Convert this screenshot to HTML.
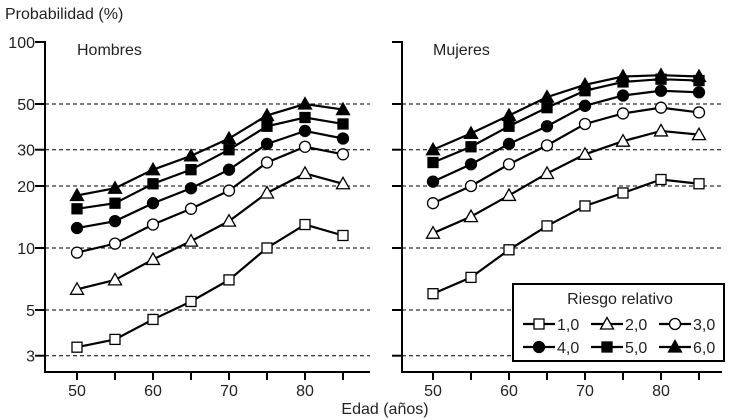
<!DOCTYPE html>
<html><head><meta charset="utf-8"><style>
html,body{margin:0;padding:0;background:#fff;}
svg{display:block;font-family:"Liberation Sans",Arial,sans-serif;}
</style></head><body>
<svg id="c" width="730" height="420" viewBox="0 0 730 420"></svg>
<script>
const ages=[50,55,60,65,70,75,80,85];
const riskLabels=["1,0","2,0","3,0","4,0","5,0","6,0"];
const markers=["sq-open","tri-open","circ-open","circ-fill","sq-fill","tri-fill"];
const yTicks=[3,5,10,20,30,50,100];
const xTicks=[50,55,60,65,70,75,80,85];
const xTickLabels=[50,60,70,80];
const men1=[3.3,3.6,4.5,5.5,7,10,13,11.5];
const men2=[6.3,7,8.8,10.8,13.5,18.5,23,20.5];
const men3=[9.5,10.5,13,15.5,19,26,31,28.5];
const men4=[12.5,13.5,16.5,19.5,24,32,37,34];
const men5=[15.5,16.5,20.5,24,30,39,43,40];
const men6=[18,19.5,24,28,34,44,50,47];
const wom1=[6,7.2,9.8,12.8,16,18.5,21.5,20.5];
const wom2=[11.8,14.2,18,23,28.5,33,37,35.5];
const wom3=[16.5,20,25.5,31.5,40,45,48,45.5];
const wom4=[21,25.5,32,39,49,55,58,57];
const wom5=[26,31,39,48,58,64,66,65];
const wom6=[30,36,44,54,62,68,69,68];
const menSeries=[men1,men2,men3,men4,men5,men6];
const womSeries=[wom1,wom2,wom3,wom4,wom5,wom6];

const NS="http://www.w3.org/2000/svg";
const svg=document.getElementById('c');
function mk(t,a,p){const e=document.createElementNS(NS,t);for(const k in a)e.setAttribute(k,a[k]);(p||svg).appendChild(e);return e;}
function y(v){return 248-206*Math.log10(v/10);}
const panels=[{x0:45,x1:370,x50:77,name:"Hombres",data:menSeries,key:"men"},{x0:402,x1:722,x50:433,name:"Mujeres",data:womSeries,key:"women"}];
const PX=7.6;
function drawMarker(g,type,cx,cy,s){
  s=s||1;
  if(type.startsWith('sq')){mk('rect',{x:cx-5*s,y:cy-5*s,width:10*s,height:10*s,fill:type.endsWith('fill')?'#000':'#fff',stroke:'#000','stroke-width':1.3},g);}
  else if(type.startsWith('circ')){mk('circle',{cx:cx,cy:cy,r:5.5*s,fill:type.endsWith('fill')?'#000':'#fff',stroke:'#000','stroke-width':1.3},g);}
  else{mk('polygon',{points:`${cx},${cy-6.5*s} ${cx+6.5*s},${cy+5*s} ${cx-6.5*s},${cy+5*s}`,fill:type.endsWith('fill')?'#000':'#fff',stroke:'#000','stroke-width':1.3},g);}
}
const t0=mk('text',{x:5,y:19,'font-size':16,fill:'#222'});t0.textContent="Probabilidad (%)";


const t1=mk('text',{x:385,y:414,'font-size':16,'text-anchor':'middle',fill:'#222'});t1.textContent="Edad (años)";


panels.forEach((p,pi)=>{
  const g=mk('g',{});
  
  
  const xs=a=>p.x50+(a-50)*PX;
  yTicks.forEach(v=>{
    if(v!==100){const l=mk('line',{x1:p.x0,x2:p.x1,y1:y(v),y2:y(v),stroke:'#000','stroke-width':1,'stroke-dasharray':'4,3'},g);
    
    }
    mk('line',{x1:p.x0-10,x2:p.x0,y1:y(v),y2:y(v),stroke:'#000','stroke-width':2},g);
    if(pi===0){const t=mk('text',{x:p.x0-10,y:y(v)+6,'font-size':16,'text-anchor':'end',fill:'#222'},g);t.textContent=v;
    
    }
  });
  mk('line',{x1:p.x0,x2:p.x0,y1:y(100)-1,y2:373,stroke:'#000','stroke-width':2},g);
  mk('line',{x1:p.x0-1,x2:p.x1,y1:372,y2:372,stroke:'#000','stroke-width':2},g);
  xTicks.forEach(a=>{mk('line',{x1:xs(a),x2:xs(a),y1:372,y2:380,stroke:'#000','stroke-width':2},g);});
  xTickLabels.forEach(a=>{const t=mk('text',{x:xs(a),y:396,'font-size':16,'text-anchor':'middle',fill:'#222'},g);t.textContent=a;
    
    });
  const tt=mk('text',{x:p.x50,y:55,'font-size':16,fill:'#222'},g);tt.textContent=p.name;
  
  
  p.data.forEach((ser,si)=>{
    const sg=mk('g',{},g);
    
    
    mk('polyline',{points:ser.map((v,i)=>xs(ages[i])+','+y(v)).join(' '),fill:'none',stroke:'#000','stroke-width':2.2},sg);
    ser.forEach((v,i)=>drawMarker(sg,markers[si],xs(ages[i]),y(v)));
  });
});
const lg=mk('g',{});


mk('rect',{x:513,y:284,width:211,height:77,fill:'#fff',stroke:'#000','stroke-width':2},lg);
const lt=mk('text',{x:620,y:304,'font-size':16,'text-anchor':'middle',fill:'#222'},lg);lt.textContent="Riesgo relativo";
riskLabels.forEach((lab,i)=>{
  const cx=523+(i%3)*68, cy=i<3?324:347;
  const eg=mk('g',{},lg);
  
  
  mk('line',{x1:cx,x2:cx+32,y1:cy,y2:cy,stroke:'#000','stroke-width':2.2},eg);
  drawMarker(eg,markers[i],cx+16,cy);
  const t=mk('text',{x:cx+34,y:cy+6,'font-size':16,fill:'#222'},eg);t.textContent=lab;
});
</script>
</body></html>
